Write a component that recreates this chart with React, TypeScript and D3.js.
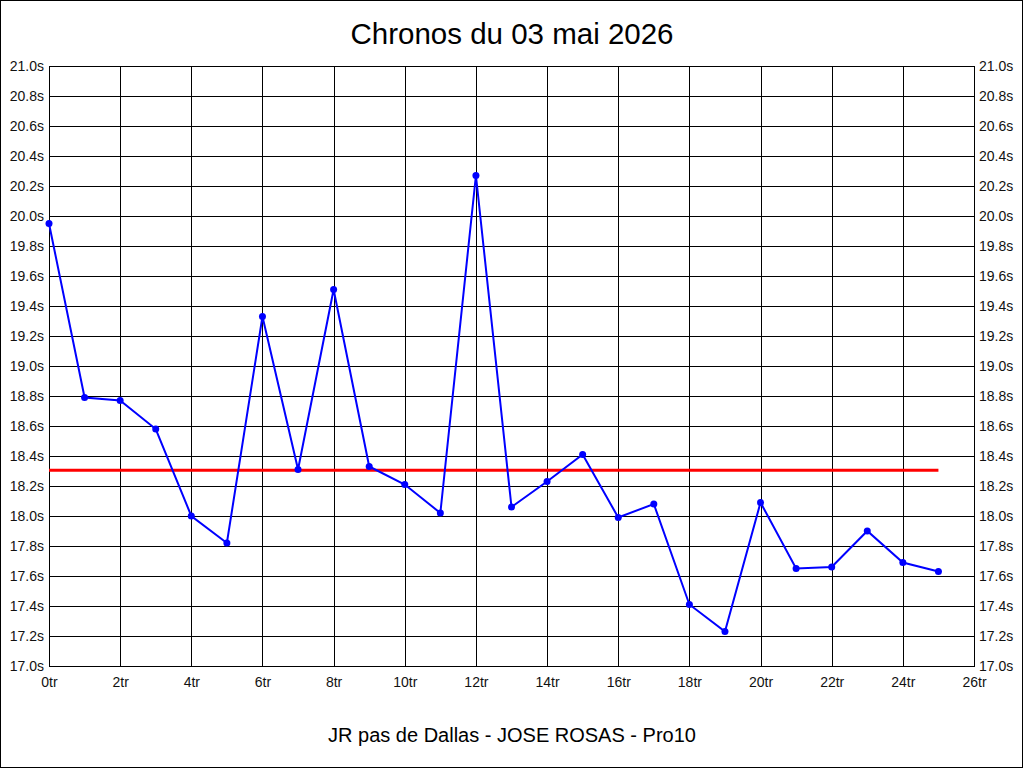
import React, {useEffect, useRef} from 'react';
import * as d3 from 'd3';

const title = 'Chronos du 03 mai 2026';
const subtitle = 'JR pas de Dallas - JOSE ROSAS - Pro10';

// temps par tour (s)
const laps = [0, 1, 2, 3, 4, 5, 6, 7, 8, 9, 10, 11, 12, 13, 14, 15, 16, 17, 18, 19, 20, 21, 22, 23, 24, 25];
const times = [
  19.95, 18.79, 18.77, 18.58, 18.00, 17.82, 19.33, 18.31, 19.51, 18.33,
  18.21, 18.02, 20.27, 18.06, 18.23, 18.41, 17.99, 18.08, 17.41, 17.23,
  18.09, 17.65, 17.66, 17.90, 17.69, 17.63
];
const xTicks = [0, 2, 4, 6, 8, 10, 12, 14, 16, 18, 20, 22, 24, 26];
const yTicks = [17.0, 17.2, 17.4, 17.6, 17.8, 18.0, 18.2, 18.4, 18.6, 18.8, 19.0, 19.2, 19.4, 19.6, 19.8, 20.0, 20.2, 20.4, 20.6, 20.8, 21.0];

const W = 1024;
const H = 768;
const m = {top: 66, right: 50, bottom: 102, left: 49};
const font = '"Liberation Sans", Arial, sans-serif';

function App() {
  const ref = useRef(null);

  useEffect(() => {
    draw();
  });

  const draw = () => {
    const svg = d3.select(ref.current);
    svg.selectAll('*').remove();

    const iw = W - m.left - m.right;
    const ih = H - m.top - m.bottom;

    const x = d3.scaleLinear().domain([0, 26]).range([0, iw]);
    const y = d3.scaleLinear().domain([17, 21]).range([ih, 0]);

    svg.append('rect')
      .attr('x', 0.5).attr('y', 0.5)
      .attr('width', W - 2).attr('height', H - 1)
      .attr('fill', 'white').attr('stroke', 'black');

    svg.append('text')
      .attr('x', W / 2).attr('y', 44)
      .attr('text-anchor', 'middle')
      .style('font-family', font).style('font-size', '29.5px')
      .text(title);

    svg.append('text')
      .attr('x', W / 2).attr('y', 742)
      .attr('text-anchor', 'middle')
      .style('font-family', font).style('font-size', '20px')
      .text(subtitle);

    const g = svg.append('g').attr('transform', `translate(${m.left},${m.top})`);

    const fmtY = (d: any) => d3.format('.1f')(d) + 's';
    const fmtX = (d: any) => d + 'tr';

    const styleAxis = (sel: any) => {
      sel.select('.domain').remove();
      sel.selectAll('.tick line').attr('stroke', 'black').attr('shape-rendering', 'crispEdges');
      sel.selectAll('.tick text')
        .style('font-family', font).style('font-size', '14px').attr('fill', '#111');
    };

    g.append('g')
      .call(d3.axisLeft(y).tickValues(yTicks).tickSize(-iw).tickPadding(5).tickFormat(fmtY) as any)
      .call(styleAxis);

    g.append('g')
      .attr('transform', `translate(${iw},0)`)
      .call(d3.axisRight(y).tickValues(yTicks).tickSize(0).tickPadding(5).tickFormat(fmtY) as any)
      .call(styleAxis);

    g.append('g')
      .attr('transform', `translate(0,${ih})`)
      .call(d3.axisBottom(x).tickValues(xTicks).tickSize(-ih).tickPadding(11).tickFormat(fmtX) as any)
      .call(styleAxis);

    g.append('rect')
      .attr('width', iw).attr('height', ih)
      .attr('fill', 'none').attr('stroke', 'black')
      .attr('shape-rendering', 'crispEdges');

    const mean = d3.mean(times) as number;
    g.append('line')
      .attr('x1', x(laps[0])).attr('x2', x(laps[laps.length - 1]))
      .attr('y1', y(mean)).attr('y2', y(mean))
      .attr('stroke', '#ff0000').attr('stroke-width', 3);

    const pts = laps.map((l, i) => [l, times[i]] as [number, number]);
    const line = d3.line()
      .x(d => x(d[0]))
      .y(d => y(d[1]));

    g.append('path')
      .datum(pts)
      .attr('d', line as any)
      .attr('fill', 'none')
      .attr('stroke', '#0000ff')
      .attr('stroke-width', 2);

    g.selectAll('circle.pt')
      .data(pts)
      .enter().append('circle')
      .attr('class', 'pt')
      .attr('cx', d => x(d[0]))
      .attr('cy', d => y(d[1]))
      .attr('r', 3.5)
      .attr('fill', '#0000ff');
  };

  return (
    <div style={{position: 'absolute', left: 0, top: 0}}>
      <svg ref={ref} width={W} height={H} style={{display: 'block'}}/>
    </div>
  );
}

export default App;
